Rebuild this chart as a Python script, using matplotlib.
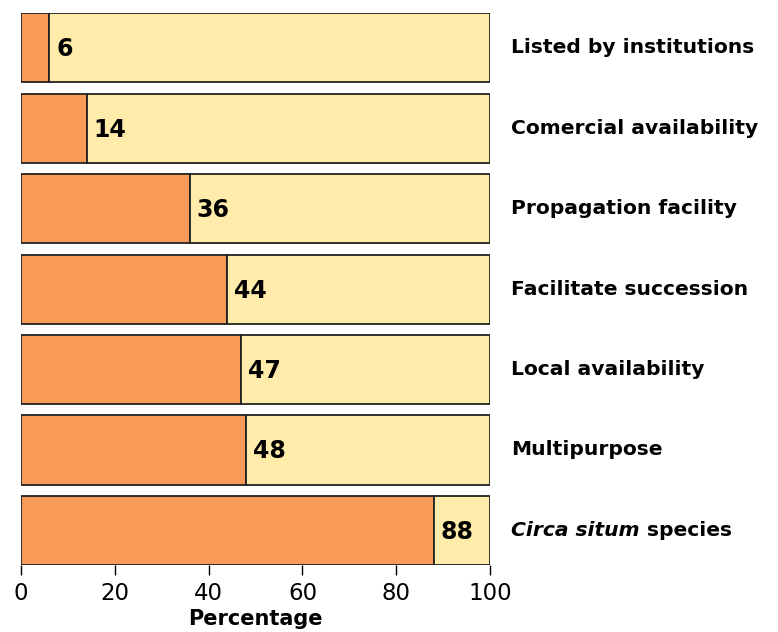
import numpy as np
import matplotlib.pyplot as plt

# Criteria and percentage of species meeting each one (top to bottom)
criteria = ['Listed by institutions', 'Comercial availability', 'Propagation facility',
            'Facilitate succession', 'Local availability', 'Multipurpose',
            'Circa situm species']
percent = [6, 14, 36, 44, 47, 48, 88]
ticks = [0, 20, 40, 60, 80, 100]

orange = '#F89A58'
yellow = '#FFEBAA'

fig = plt.figure(figsize=(7.78, 6.32), dpi=100)
ax = fig.add_axes([0.027, 0.106, 0.603, 0.873])

y = np.arange(len(criteria))
rest = [100 - p for p in percent]
ax.barh(y, percent, height=0.86, color=orange, edgecolor='#222222', linewidth=1.3)
ax.barh(y, rest, left=percent, height=0.86, color=yellow, edgecolor='#222222', linewidth=1.3)

for yi, p in zip(y, percent):
    ax.annotate(str(p), xy=(p, yi), xytext=(5, -1), textcoords='offset points',
                ha='left', va='center', fontsize=17, fontweight='bold')

# category labels on the right
for yi, name in zip(y, criteria):
    if name.startswith('Circa situm'):
        t = ax.text(104.5, yi, 'Circa situm', ha='left', va='center', fontsize=14.6,
                    fontweight='bold', fontstyle='italic')
        ax.annotate(' species', xy=(1, 0), xycoords=t, va='bottom', ha='left',
                    fontsize=14.6, fontweight='bold')
    else:
        ax.text(104.5, yi, name, ha='left', va='center', fontsize=14.6, fontweight='bold')

ax.set_xlim(0, 100)
ax.set_ylim(len(criteria) - 0.57, -0.43)
ax.set_xticks(ticks)
ax.tick_params(axis='x', labelsize=16.5, length=7, width=1, direction='out', pad=5)
ax.set_yticks([])
for s in ax.spines.values():
    s.set_visible(False)
ax.set_xlabel('Percentage', fontsize=15, fontweight='bold', labelpad=3)

fig.savefig('out.png', dpi=100)
